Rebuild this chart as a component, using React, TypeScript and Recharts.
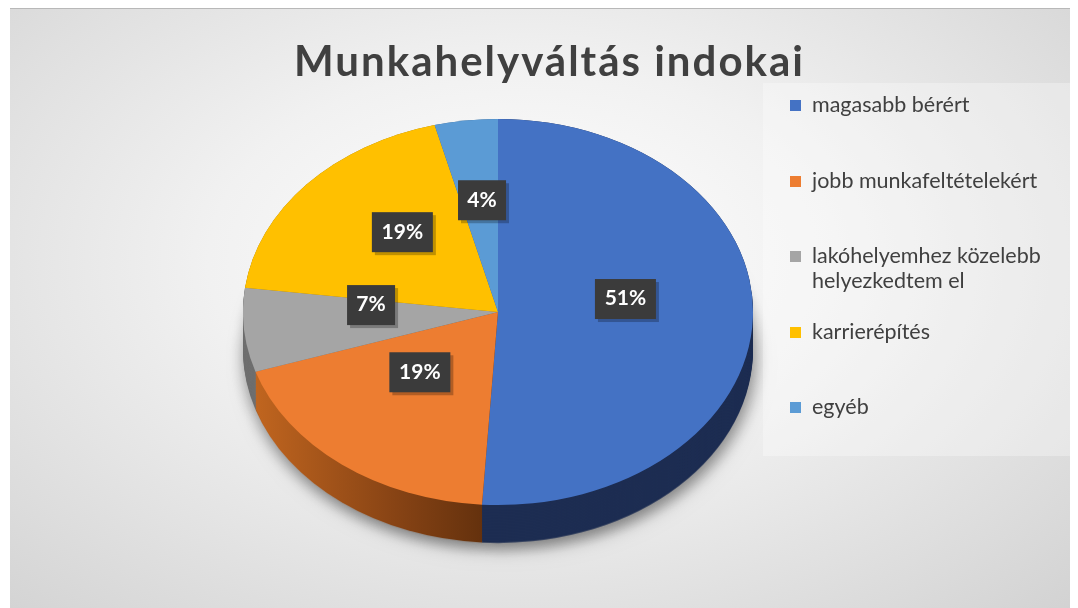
import React from "react";
import { PieChart, Pie, Cell, Legend } from "recharts";

// Munkahelyváltás indokai (percent)
const categories = [
  "magasabb bérért",
  "jobb munkafeltételekért",
  "lakóhelyemhez közelebb helyezkedtem el",
  "karrierépítés",
  "egyéb",
];
const shares = [51, 19, 7, 19, 4];
const topColors = ["#4472C4", "#ED7D31", "#A5A5A5", "#FFC000", "#5B9BD5"];
const sideColors = ["#1d2d52", "url(#sideOrange)", "#6f6f6f", "#9a7400", "#35618a"];

const pieData = categories.map((name, i) => ({ name, value: shares[i] }));

const W = 1070;
const H = 600;
const CX = 488;
const CY = 303;
const R = 255;
const TILT = 0.757;
const DEPTH = 50;
const sideLayers = Array.from({ length: 26 }, (_, i) => DEPTH - i * 2);

// the class ends up on two nested layers, so each gets the square root
const S = Math.sqrt(TILT);
const css = `
.tilted { transform: scaleY(${S}); transform-origin: ${CX}px ${CY}px; }
.tilted-shadow { transform: scaleY(${S}); transform-origin: ${CX}px ${CY}px; filter: drop-shadow(2px 8px 8px rgba(0,0,0,0.25)); }
`;

const renderLabel = (props: any) => {
  const { cx, cy, midAngle, outerRadius, percent } = props;
  const rad = Math.PI / 180;
  const r = outerRadius * 0.5;
  const x = cx + r * Math.cos(-midAngle * rad);
  const y = cy + r * Math.sin(-midAngle * rad) * TILT - 16;
  const text = `${Math.round(percent * 100)}%`;
  const w = 22 + text.length * 13;
  const h = 40;
  return (
    <g>
      <rect x={x - w / 2 + 3} y={y - h / 2 + 3} width={w} height={h} fill="rgba(0,0,0,0.25)" />
      <rect x={x - w / 2} y={y - h / 2} width={w} height={h} fill="#3b3b3b" />
      <text
        x={x}
        y={y + 1}
        textAnchor="middle"
        dominantBaseline="middle"
        fill="#ffffff"
        fontFamily="Lato, 'Open Sans', sans-serif"
        fontWeight={700}
        fontSize={21}
      >
        {text}
      </text>
    </g>
  );
};

const LegendContent = () => (
  <div
    style={{
      width: "100%",
      height: "100%",
      background: "rgba(255,255,255,0.3)",
      fontFamily: "Lato, 'Open Sans', sans-serif",
      fontSize: 21.5,
      color: "#404040",
      boxSizing: "border-box",
      paddingTop: 9,
    }}
  >
    {categories.map((name, i) => (
      <div key={name} style={{ display: "flex", height: 75.5, alignItems: "flex-start" }}>
        <span
          style={{
            width: 11,
            height: 11,
            background: topColors[i],
            marginLeft: 27,
            marginRight: 11,
            marginTop: 8,
            flex: "none",
          }}
        />
        <span style={{ width: 262, lineHeight: "25px" }}>{name}</span>
      </div>
    ))}
  </div>
);

export default function App() {
  return (
    <div
      style={{
        position: "relative",
        width: W,
        height: H,
        marginLeft: 2,
        borderTop: "1px solid #b8b8b8",
        boxSizing: "border-box",
        background: "radial-gradient(ellipse at 48% 42%, #ffffff 0%, #f1f1f1 40%, #d2d2d2 100%)",
        overflow: "hidden",
      }}
    >
      <style>{css}</style>
      <svg width={0} height={0} style={{ position: "absolute" }}>
        <defs>
          <linearGradient id="sideOrange" x1="0" y1="0" x2="1" y2="0">
            <stop offset="0%" stopColor="#c0651f" />
            <stop offset="60%" stopColor="#854214" />
            <stop offset="100%" stopColor="#5e2e0c" />
          </linearGradient>
        </defs>
      </svg>
      <div
        style={{
          position: "absolute",
          left: 0,
          top: 26,
          width: 1079,
          textAlign: "center",
          fontFamily: "Lato, 'Open Sans', sans-serif",
          fontWeight: 700,
          fontSize: 42,
          letterSpacing: 2,
          color: "#404040",
          zIndex: 2,
        }}
      >
        Munkahelyváltás indokai
      </div>
      <PieChart width={W} height={H} margin={{ top: 0, right: 0, bottom: 0, left: 0 }}>
        {sideLayers.map((d, li) => (
          <Pie
            key={`side-${d}`}
            className={li === 0 ? "tilted-shadow" : "tilted"}
            data={pieData}
            dataKey="value"
            nameKey="name"
            cx={CX}
            cy={CY + d}
            outerRadius={R}
            startAngle={90}
            endAngle={-270}
            stroke="none"
            isAnimationActive={false}
            legendType="none"
          >
            {pieData.map((e, i) => (
              <Cell key={e.name} fill={sideColors[i]} stroke="none" />
            ))}
          </Pie>
        ))}
        <Pie
          className="tilted"
          data={pieData}
          dataKey="value"
          nameKey="name"
          cx={CX}
          cy={CY}
          outerRadius={R}
          startAngle={90}
          endAngle={-270}
          stroke="none"
          isAnimationActive={false}
        >
          {pieData.map((e, i) => (
            <Cell key={e.name} fill={topColors[i]} stroke="none" />
          ))}
        </Pie>
        <Pie
          data={pieData}
          dataKey="value"
          nameKey="name"
          cx={CX}
          cy={CY}
          outerRadius={R}
          startAngle={90}
          endAngle={-270}
          fill="transparent"
          stroke="none"
          label={renderLabel}
          labelLine={false}
          isAnimationActive={false}
          legendType="none"
        >
          {pieData.map((e) => (
            <Cell key={e.name} fill="transparent" stroke="none" />
          ))}
        </Pie>
        <Legend
          layout="vertical"
          align="right"
          verticalAlign="middle"
          content={<LegendContent />}
          wrapperStyle={{ position: "absolute", left: 753, top: 74, width: 317, height: 373 }}
        />
      </PieChart>
    </div>
  );
}
